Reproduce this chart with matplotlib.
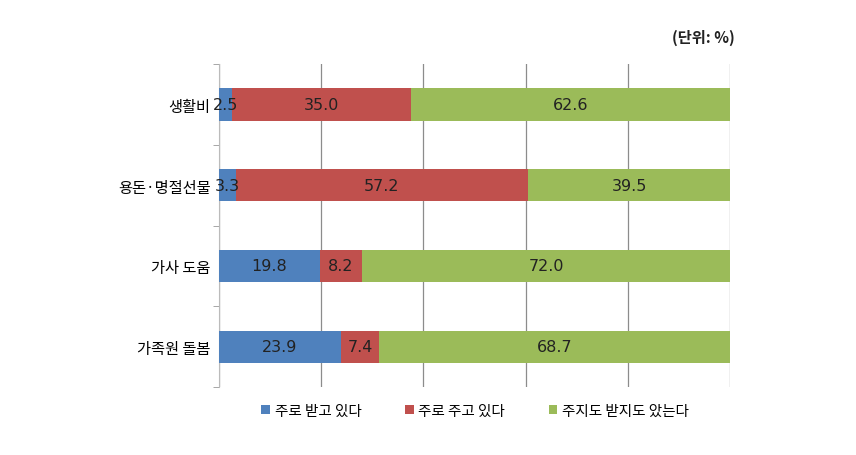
import matplotlib.pyplot as plt

# 한글 폰트
plt.rcParams['font.family'] = ['Noto Sans CJK KR', 'DejaVu Sans']

# 데이터
categories = ['생활비', '용돈·명절선물', '가사 도움', '가족원 돌봄']
receive = [2.5, 3.3, 19.8, 23.9]
give = [35.0, 57.2, 8.2, 7.4]
neither = [62.6, 39.5, 72.0, 68.7]
series_names = ['주로 받고 있다', '주로 주고 있다', '주지도 받지도 았는다']
colors = ['#4F81BD', '#C0504D', '#9BBB59']

fig = plt.figure(figsize=(8.56, 4.56), dpi=100)
ax = fig.add_axes([0.2558, 0.149, 0.597, 0.7085])

ypos = list(range(len(categories)))
left = [0] * len(categories)
for vals, name, c in zip([receive, give, neither], series_names, colors):
    bars = ax.barh(ypos, vals, left=left, height=0.4, color=c, label=name, zorder=3)
    for b, v in zip(bars, vals):
        ax.text(b.get_x() + b.get_width() / 2, b.get_y() + b.get_height() / 2,
                f'{v:.1f}', ha='center', va='center', fontsize=11.5,
                color='#222222', zorder=4, family=['Liberation Sans Narrow', 'DejaVu Sans'])
    left = [l + v for l, v in zip(left, vals)]

ax.set_xlim(0, 100)
ax.set_ylim(len(categories) - 0.5, -0.5)
ax.set_xticks([0, 20, 40, 60, 80, 100])
ax.set_xticklabels([])
ax.tick_params(axis='x', length=0)
ax.grid(axis='x', color='#8c8c8c', linewidth=0.9, zorder=0)

ax.set_yticks(ypos)
ax.set_yticklabels(categories, fontsize=11)
ax.set_yticks([-0.5, 0.5, 1.5, 2.5, 3.5], minor=True)
ax.tick_params(axis='y', which='major', length=0, pad=6)
ax.tick_params(axis='y', which='minor', length=4, color='#999999', direction='out')

for s in ['top', 'right', 'bottom']:
    ax.spines[s].set_visible(False)
ax.spines['left'].set_color('#bbbbbb')

fig.text(0.858, 0.918, '(단위: %)', ha='right', va='center', fontsize=11, fontweight='bold',
         color='#222222')

fig.legend(loc='center', bbox_to_anchor=(0.555, 0.097), ncol=3, frameon=False,
           fontsize=10.5, handlelength=0.6, handleheight=0.6, columnspacing=3.0,
           handletextpad=0.3)

fig.savefig('out.png', dpi=100)
